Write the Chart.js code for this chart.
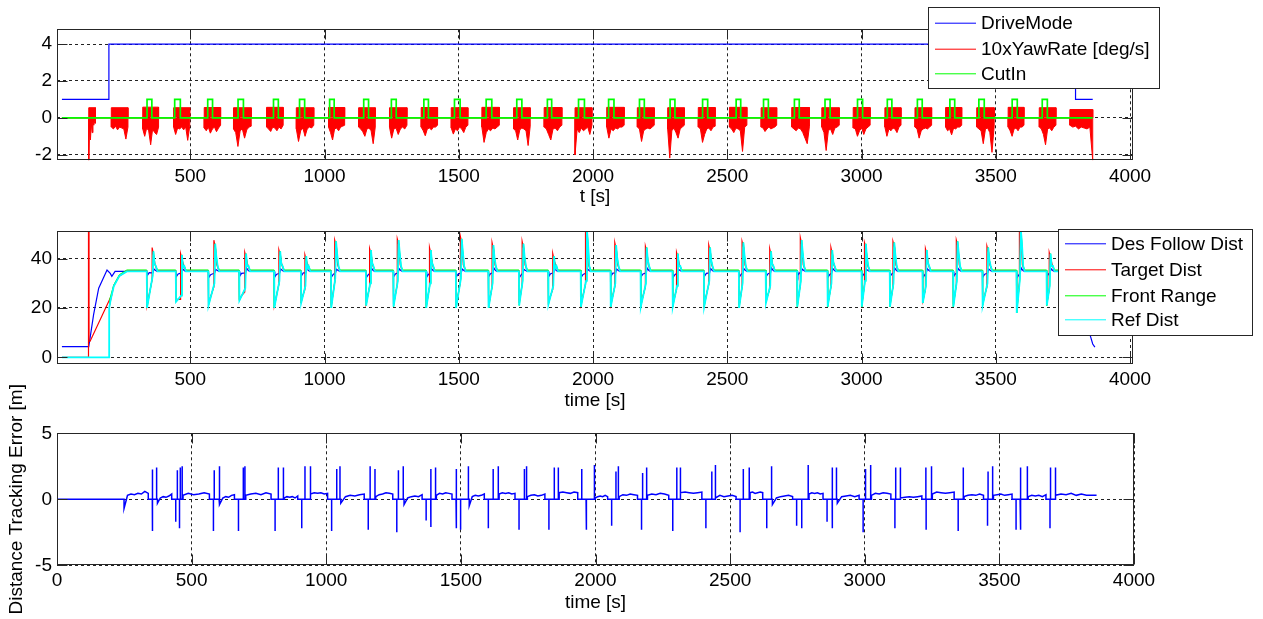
<!DOCTYPE html>
<html><head><meta charset="utf-8">
<script src="https://cdn.jsdelivr.net/npm/chart.js@4.4.1/dist/chart.umd.min.js"></script>
<style>html,body{margin:0;padding:0;background:#fff;overflow:hidden}canvas{position:absolute;left:0;top:0}</style>
</head><body>
<canvas id="c1" width="1263" height="619"></canvas>
<canvas id="c2" width="1263" height="619"></canvas>
<canvas id="c3" width="1263" height="619"></canvas>
<script>
// ================= DATA =================
// ---- tick labels
const xTicksTime = [500, 1000, 1500, 2000, 2500, 3000, 3500, 4000];
const xTicksError = [0, 500, 1000, 1500, 2000, 2500, 3000, 3500, 4000];
const yTicksTop = [-2, 0, 2, 4];
const yTicksMid = [0, 20, 40];
const yTicksErr = [-5, 0, 5];

// ---- panel 1 : DriveMode / 10xYawRate / CutIn
const driveModeTime = [22, 197, 197, 3797, 3797, 3861];
const driveModeValue = [1, 1, 4, 4, 1, 1];
const signalSpan = [22, 3861];
const yawBurstStart = [122,206,323,438,552,661,784,895,1015,1127,1242,1360,1472,1586,1704,1818,1933,2051,2165,2278,2392,2508,2626,2740,2852,2969,3087,3199,3313,3429,3546,3662,3776];
const yawBurstEnd   = [147,268,382,498,613,727,846,960,1075,1189,1307,1421,1534,1651,1766,1884,1996,2116,2228,2340,2455,2573,2684,2806,2917,3032,3147,3261,3373,3494,3605,3724,3861];
const yawBurstTop   = [0.55,0.55,0.58,0.55,0.56,0.55,0.57,0.55,0.56,0.55,0.55,0.56,0.55,0.57,0.55,0.56,0.55,0.57,0.55,0.55,0.56,0.57,0.55,0.56,0.55,0.56,0.55,0.55,0.56,0.55,0.57,0.55,0.45];
const yawBurstLow = [
  [-2.3,-0.2,-1.2,-0.3,-0.8,-0.2,-0.4,-0.2,-0.3],
  [-0.5,-0.6,-0.45,-0.65,-0.5,-0.55,-0.6,-1.15,-0.5],
  [-0.6,-1.0,-0.55,-0.7,-1.46,-0.6,-0.8,-0.9,-0.5],
  [-0.5,-0.9,-0.55,-0.6,-0.5,-0.65,-0.5,-1.22,-0.45],
  [-0.55,-0.7,-0.5,-0.83,-0.6,-0.5,-0.75,-0.55,-0.4],
  [-0.6,-0.8,-1.55,-0.7,-0.6,-1.1,-0.65,-0.5,-0.45],
  [-0.5,-0.6,-0.74,-0.5,-0.55,-0.7,-0.5,-0.6,-0.4],
  [-0.6,-1.28,-0.7,-0.55,-1.0,-0.6,-0.5,-0.55,-0.4],
  [-0.5,-0.8,-1.2,-0.6,-0.55,-0.7,-0.5,-0.45,-0.4],
  [-0.5,-0.6,-0.75,-1.0,-0.6,-0.55,-0.7,-1.4,-0.5],
  [-0.5,-1.1,-0.6,-0.55,-0.9,-0.6,-0.5,-0.6,-0.4],
  [-0.5,-0.7,-0.97,-0.6,-0.55,-0.65,-0.5,-0.5,-0.4],
  [-0.55,-0.88,-0.6,-0.7,-0.5,-0.6,-0.8,-0.5,-0.4],
  [-0.5,-1.33,-0.8,-0.6,-0.7,-0.55,-0.6,-0.5,-0.4],
  [-0.6,-0.7,-1.2,-0.65,-0.55,-0.6,-0.7,-1.5,-0.45],
  [-0.5,-0.6,-0.9,-1.2,-0.6,-0.55,-0.7,-0.5,-0.4],
  [-2.0,-0.6,-0.8,-0.55,-0.7,-0.6,-0.5,-0.9,-0.4],
  [-0.5,-1.1,-0.6,-0.7,-0.55,-0.6,-0.5,-0.5,-0.4],
  [-0.5,-0.6,-1.28,-0.7,-0.6,-0.55,-0.6,-0.5,-0.4],
  [-0.6,-2.18,-0.7,-0.55,-0.8,-1.1,-0.6,-0.5,-0.4],
  [-0.5,-0.6,-1.33,-0.9,-0.6,-0.55,-0.7,-0.5,-0.45],
  [-0.5,-0.6,-0.8,-0.55,-0.6,-0.7,-1.82,-0.5,-0.4],
  [-0.5,-0.55,-0.74,-0.6,-0.5,-0.6,-0.55,-0.5,-0.4],
  [-0.5,-0.6,-0.7,-0.55,-0.6,-0.8,-1.1,-1.4,-0.45],
  [-0.5,-0.8,-1.77,-0.7,-0.6,-0.9,-0.55,-0.5,-0.4],
  [-0.55,-0.6,-1.0,-0.7,-0.55,-0.9,-0.6,-0.5,-0.4],
  [-0.5,-1.0,-0.6,-0.7,-0.55,-0.6,-0.8,-0.5,-0.4],
  [-0.5,-0.6,-1.1,-0.7,-0.6,-0.55,-0.6,-0.5,-0.4],
  [-0.5,-0.7,-0.6,-0.92,-0.55,-0.6,-0.5,-0.5,-0.4],
  [-0.5,-0.6,-0.7,-1.4,-0.6,-0.55,-0.8,-1.87,-0.45],
  [-0.5,-0.7,-1.0,-0.6,-0.55,-0.7,-0.5,-0.5,-0.4],
  [-0.5,-0.6,-0.9,-1.46,-0.6,-0.55,-0.7,-0.5,-0.4],
  [-0.4,-0.5,-0.45,-0.6,-0.5,-0.55,-0.6,-0.5,-2.3]
];
const cutInStart = [339,442,565,678,810,907,1019,1146,1249,1370,1484,1602,1716,1830,1946,2058,2173,2287,2408,2533,2635,2750,2864,2985,3096,3208,3329,3437,3561,3673];
const cutInEnd   = [357,463,583,698,828,926,1036,1164,1267,1387,1505,1623,1735,1846,1968,2078,2191,2305,2427,2550,2653,2768,2883,3004,3113,3226,3347,3457,3580,3692];

// ---- panel 2 : distances
const eventDrop = [339,447,568,683,813,913,1025,1155,1257,1379,1490,1611,1725,1834,1955,2066,2178,2297,2414,2544,2644,2761,2874,3001,3106,3228,3342,3451,3578,3690];
const eventPeak = [363,469,593,708,835,932,1043,1173,1276,1396,1511,1629,1741,1855,1977,2086,2200,2316,2436,2560,2663,2777,2891,3016,3122,3243,3358,3472,3593,3704];
const refDropValue = [20,22.5,21,23,20,22,20,21,20.5,20,20,20,21,21.5,20.5,20.5,20.5,20.5,20.5,20,22,20.5,20.5,20.5,20.5,22,20.5,21,18,21];
const refRampEnd   = [33,25,30,28,31,29,32,30,31,30,32,30,31,29,31,30,30,29,31,30,29,31,30,31,30,29,31,30,32,29];
const refPeakValue = [43,41.5,46,42,43,41,47,43.5,47.5,43.5,48,45.5,46,41,52,45.5,44.5,42,44.5,46.5,43,47.5,43.5,46,46.5,43.5,47,44.5,52,42];
const targetPeakValue = [44.5,42,47.5,42.5,43.5,41.5,47.5,44,48,44.5,49,46.5,47,42,53,46.5,45,42.5,45.5,47,44,48.5,44.5,46.5,47,44,47.5,45,53,42.5];
const desDipValue  = [33.3,32.8,32.5,33,32.6,33.2,32.7,32.5,32.9,32.6,32.8,33,32.5,32.9,32.6,33.1,32.8,32.5,33,32.7,32.9,33.2,32.6,32.8,33,32.5,32.9,32.7,32.4,33];
const desRiseValue = [35.8,36,35.6,36.2,35.8,36,35.7,36.1,35.9,36,35.8,36.2,35.6,36,35.9,35.8,36.1,35.7,36,35.9,36.2,35.8,36,35.7,36.1,35.9,36,35.8,36.2,35.9];
const followLevel = 34.8, targetLevel = 35, frontLevel = 35.4;
const desStartTime  = [22, 122, 140, 159, 190, 202, 208, 220, 264];
const desStartValue = [4.3, 4.3, 17.3, 28, 35.4, 34, 32.8, 34.8, 34.8];
const desEndTime  = [3780, 3820, 3840, 3851, 3861, 3869];
const desEndValue = [34.8, 25, 15, 9.1, 5.4, 4.1];
const targetStartTime  = [22, 121, 121, 123, 123, 127, 200, 201, 215, 236, 264];
const targetStartValue = [0, 0, 60, 60, 6.5, 6.5, 23.5, 22, 29, 33, 35];
const refStartTime  = [22, 198, 198, 203, 215, 236, 264];
const refStartValue = [0, 0, 20, 23, 28.8, 33, 34.8];
const frontStartTime  = [198, 200, 215, 236, 264];
const frontStartValue = [21, 23.5, 29.3, 33.5, 35.4];
const distEndTime = 3790;

// ---- panel 3 : distance tracking error
const errActiveSpan = [249, 3861];
const errSpikeTime = [
  [354,355,370],[441,447,455,458,465],[581,584,602],[674,692,698],[810,822,841],
  [909,921,940],[1020,1039,1051],[1156,1163,1181],[1262,1268,1286],[1371,1388,1389,1406],
  [1482,1484,1499,1528],[1602,1620,1639],[1716,1736,1744],[1827,1847,1862],[1949,1965,1967,1996],
  [2060,2076,2085],[2171,2175,2190],[2287,2302,2314],[2410,2432,2444],[2537,2549,2571],
  [2636,2654],[2747,2766,2790],[2860,2879,2880,2895],[2994,3003,3022],[3112,3115,3131],
  [3227,3228,3248],[3347,3366],[3456,3458,3475],[3562,3577,3580,3604],[3688,3690,3707]
];
const errSpikeValue = [
  [-2.4,2.26,2.4],[-1.7,2.2,-2.2,2.4,2.5],[-2.4,2.2,2.5],[-2.4,2.4,2.5],[-2.4,2.4,2.4],
  [-2.2,2.5,2.5],[-2.4,2.3,2.5],[-2.3,2.5,2.3],[-2.5,2.2,2.5],[-1.6,2.3,-2.1,2.4],
  [-2.2,2.3,-2.3,2.5],[-2.2,2.3,2.5],[-2.3,2.3,2.5],[-2.3,2.4,2.4],[2.3,-2.3,-1.9,2.6],
  [-2.0,2.1,2.5],[-2.3,2.0,2.4],[-2.4,2.4,2.4],[-2.2,2.1,2.6],[-2.5,2.3,2.4],
  [-2.2,2.5],[-2.0,-2.2,2.6],[-1.7,-2.2,2.4,2.4],[-2.5,2.3,2.6],[-2.2,2.4,2.4],
  [2.4,-2.3,2.5],[-2.4,2.4],[-2.0,2.1,2.5],[-2.3,2.4,-2.3,2.5],[-2.2,2.4,2.4]
];
const errNoise = [
  [-0.7,0.3,0.4,0.35,0.45,0.4,0.6,0.45],
  [-0.3,0.1,0.2,0.15,0.25,0.4],[0.3,0.45,0.35,0.4,0.5,0.4],[-0.4,0.1,0.2,0.15,0.3,0.35],
  [0.3,0.4,0.45,0.35,0.5,0.4],[0.1,0.2,0.15,0.2,0.1,0.25],[0.4,0.5,0.45,0.5,0.4,0.45],
  [-0.3,0.2,0.3,0.25,0.35,0.4],[0.2,0.35,0.4,0.5,0.45,0.4],[-0.4,0.1,0.2,0.25,0.2,0.35],
  [0.3,0.45,0.4,0.5,0.45,0.4],[-0.5,0.2,0.3,0.25,0.3,0.4],[0.4,0.5,0.45,0.5,0.4,0.45],
  [0.2,0.3,0.35,0.25,0.3,0.4],[0.5,0.55,0.5,0.45,0.55,0.5],[0.1,0.2,0.25,0.2,0.3,0.2],
  [0.2,0.35,0.3,0.4,0.35,0.3],[0.3,0.4,0.35,0.45,0.4,0.3],[0.5,0.55,0.5,0.45,0.5,0.55],
  [0.1,0.3,0.2,0.25,0.3,0.2],[0.5,0.55,0.45,0.5,0.55,0.5],[-0.4,0.1,0.2,0.25,0.3,0.2],
  [0.4,0.5,0.45,0.5,0.4,0.45],[-0.3,0.2,0.25,0.3,0.2,0.3],[0.3,0.45,0.4,0.5,0.45,0.4],
  [0.1,0.15,0.2,0.15,0.2,0.25],[0.4,0.55,0.5,0.45,0.5,0.55],[0.2,0.3,0.35,0.3,0.4,0.3],
  [0.3,0.35,0.4,0.3,0.35,0.4],[0.2,0.3,0.25,0.3,0.2,0.35],
  [0.3,0.4,0.35,0.45,0.3,0.4,0.3,0.3,0.3]
];
const errQuietBefore = 15, errSettleAfter = 3;

// ================= BUILD SERIES =================
const P = (x, y) => ({x, y});
const pts = (ts, vs) => ts.map((t, i) => P(t, vs[i]));

const driveMode = pts(driveModeTime, driveModeValue);
const yawUpper = [P(signalSpan[0], 0)], yawLower = [P(signalSpan[0], 0)];
yawBurstStart.forEach((s, i) => {
  const e = yawBurstEnd[i], low = yawBurstLow[i], n = low.length;
  yawUpper.push(P(s, 0), P(s, yawBurstTop[i]), P(e, yawBurstTop[i]), P(e, 0));
  yawLower.push(P(s, 0));
  low.forEach((v, j) => yawLower.push(P(s + (e - s) * j / (n - 1), v)));
  yawLower.push(P(e, 0));
});
yawUpper.push(P(signalSpan[1], 0)); yawLower.push(P(signalSpan[1], 0));
const cutIn = [P(signalSpan[0], 0)];
cutInStart.forEach((s, i) => cutIn.push(P(s, 0), P(s, 1), P(cutInEnd[i], 1), P(cutInEnd[i], 0)));
cutIn.push(P(signalSpan[1], 0));

const des = pts(desStartTime, desStartValue);
const target = pts(targetStartTime, targetStartValue);
const ref = pts(refStartTime, refStartValue);
const front = pts(frontStartTime, frontStartValue);
eventDrop.forEach((d, i) => {
  const p = eventPeak[i];
  des.push(P(d - 1, followLevel), P(d + 2, desDipValue[i]), P(d + 8, desDipValue[i] + 1), P(p - 2, 34.2), P(p + 2, desRiseValue[i]), P(p + 8, 35.2), P(p + 14, followLevel));
  target.push(P(d - 1, targetLevel), P(d, refDropValue[i] + 1), P(p - 5, refRampEnd[i] - 1.5), P(p - 5, targetPeakValue[i]), P(p + 1, refPeakValue[i] - 2), P(p + 6, 37.5), P(p + 14, targetLevel));
  front.push(P(d - 1, frontLevel), P(d, refDropValue[i]), P(p - 3, refRampEnd[i]), P(p, refPeakValue[i]), P(p + 4, refPeakValue[i] - 5), P(p + 9, 37), P(p + 15, frontLevel));
  ref.push(P(d - 1, followLevel), P(d, refDropValue[i]), P(p - 3, refRampEnd[i]), P(p, refPeakValue[i]), P(p + 4, refPeakValue[i] - 5), P(p + 9, 37), P(p + 15, followLevel));
});
des.push(...pts(desEndTime, desEndValue));
target.push(P(distEndTime, targetLevel));
ref.push(P(distEndTime, followLevel));
front.push(P(distEndTime, frontLevel));

const trackErr = [P(0, 0)];
function addNoise(a, b, vals, closeToZero) {
  trackErr.push(P(a, 0));
  vals.forEach((v, j) => trackErr.push(P(a + (b - a) * j / (vals.length - 1), v)));
  if (closeToZero) trackErr.push(P(b, 0));
}
addNoise(errActiveSpan[0], errSpikeTime[0][0] - errQuietBefore, errNoise[0], true);
errSpikeTime.forEach((ts, k) => {
  ts.forEach((t, j) => trackErr.push(P(t, 0), P(t, errSpikeValue[k][j]), P(t, 0)));
  const a = ts[ts.length - 1] + errSettleAfter;
  const last = k + 1 >= errSpikeTime.length;
  const b = last ? errActiveSpan[1] : errSpikeTime[k + 1][0] - errQuietBefore;
  addNoise(a, b, errNoise[k + 1], !last);
});

// ================= CHARTS =================
const FONT = "'Liberation Sans', Arial, Helvetica, sans-serif";
Chart.defaults.font.family = FONT;
Chart.defaults.font.size = 19;
Chart.defaults.color = '#000';
const AXIS = '#262626';

function framePlugin() {
  return {
    id: 'frame',
    afterDatasetsDraw(chart) {
      const {ctx, chartArea: a} = chart;
      const L = Math.round(a.left) + 0.5, R = Math.round(a.right) - 0.5, T = Math.round(a.top) + 0.5, B = Math.round(a.bottom) - 0.5;
      ctx.save();
      ctx.setLineDash([]); ctx.strokeStyle = AXIS; ctx.lineWidth = 1;
      ctx.strokeRect(L, T, R - L, B - T);
      const len = 10;
      ctx.beginPath();
      chart.scales.x.ticks.forEach(t => { const p = Math.round(chart.scales.x.getPixelForValue(t.value)) + 0.5; ctx.moveTo(p, B); ctx.lineTo(p, B - len); ctx.moveTo(p, T); ctx.lineTo(p, T + len); });
      chart.scales.y.ticks.forEach(t => { const p = Math.round(chart.scales.y.getPixelForValue(t.value)) + 0.5; ctx.moveTo(L, p); ctx.lineTo(L + len, p); ctx.moveTo(R, p); ctx.lineTo(R - len, p); });
      ctx.stroke();
      ctx.restore();
    }
  };
}
function legendPlugin(cfg) {
  return {
    id: 'boxLegend',
    afterDraw(chart) {
      const {ctx} = chart, b = cfg.box;
      ctx.save();
      ctx.fillStyle = '#fff'; ctx.fillRect(b.x, b.y, b.w, b.h);
      ctx.strokeStyle = AXIS; ctx.lineWidth = 1; ctx.strokeRect(b.x + 0.5, b.y + 0.5, b.w, b.h);
      const items = chart.data.datasets.filter(d => d.legendRow !== undefined).sort((p, q) => p.legendRow - q.legendRow);
      ctx.font = '19px ' + FONT; ctx.textBaseline = 'middle'; ctx.textAlign = 'left';
      items.forEach((d, i) => {
        const y = cfg.rows[i];
        ctx.strokeStyle = d.borderColor; ctx.lineWidth = 1;
        ctx.beginPath(); ctx.moveTo(cfg.lineX[0], y + 0.5); ctx.lineTo(cfg.lineX[1], y + 0.5); ctx.stroke();
        ctx.fillStyle = '#000'; ctx.fillText(d.label, cfg.textX, y + 1);
      });
      ctx.restore();
    }
  };
}
function scaleX(min, max, ticks, title, height, tickPad, titlePad) {
  return {
    type: 'linear', min, max,
    afterBuildTicks: s => { s.ticks = ticks.map(v => ({value: v})); },
    afterFit: s => { s.height = height; },
    ticks: {padding: tickPad, maxRotation: 0, autoSkip: false, callback: v => String(v), color: '#000'},
    grid: {color: '#222', lineWidth: 1, drawTicks: false},
    border: {display: false, dash: [3, 3]},
    title: {display: true, text: title, color: '#000', padding: {top: 0, bottom: titlePad}}
  };
}
function scaleY(min, max, ticks, title) {
  return {
    type: 'linear', min, max,
    afterBuildTicks: s => { s.ticks = ticks.map(v => ({value: v})); },
    afterFit: s => { s.width = 57; },
    ticks: {padding: 5, callback: v => String(v), color: '#000'},
    grid: {color: '#222', lineWidth: 1, drawTicks: false},
    border: {display: false, dash: [3, 3]},
    title: title ? {display: true, text: title, color: '#000', padding: {top: 5, bottom: 0}} : {display: false}
  };
}
const line = (label, data, color, order, extra) => Object.assign({label, data, borderColor: color, backgroundColor: color, borderWidth: 1, pointRadius: 0, tension: 0, fill: false, order}, extra || {});
const common = (padding, scales) => ({
  responsive: false, animation: false, events: [],
  layout: {padding},
  plugins: {legend: {display: false}, tooltip: {enabled: false}},
  scales
});

new Chart(document.getElementById('c1'), {
  type: 'line',
  data: {datasets: [
    line('DriveMode', driveMode, '#0000ff', 3, {legendRow: 0, borderWidth: 1.2}),
    line('10xYawRate [deg/s]', yawUpper, '#ff0000', 2, {legendRow: 1, fill: {value: 0}}),
    line('', yawLower, '#ff0000', 2, {fill: {value: 0}}),
    line('CutIn', cutIn, '#00ff00', 1, {legendRow: 2, borderWidth: 1.7})
  ]},
  options: common({top: 29.3, right: 130, bottom: 408.7, left: 0}, {
    x: scaleX(3.7, 4011, xTicksTime, 't [s]', 50, 5, 2),
    y: scaleY(-2.3, 4.8, yTicksTop)
  }),
  plugins: [framePlugin(), legendPlugin({box: {x: 928, y: 7, w: 231, h: 81}, rows: [22.7, 48.7, 73.3], lineX: [935, 976], textX: 981})]
});

new Chart(document.getElementById('c2'), {
  type: 'line',
  data: {datasets: [
    line('Des Follow Dist', des, '#0000ff', 4, {legendRow: 0, borderWidth: 1.2}),
    line('Target Dist', target, '#ff0000', 3, {legendRow: 1, borderWidth: 1.2}),
    line('Front Range', front, '#00ff00', 2, {legendRow: 2, borderWidth: 1}),
    line('Ref Dist', ref, '#00ffff', 1, {legendRow: 3, borderWidth: 1.8})
  ]},
  options: common({top: 231, right: 130, bottom: 204.6, left: 0}, {
    x: scaleX(3.7, 4011, xTicksTime, 'time [s]', 50.7, 5, 2),
    y: scaleY(-2.6, 51.2, yTicksMid)
  }),
  plugins: [framePlugin(), legendPlugin({box: {x: 1058, y: 229, w: 194, h: 106}, rows: [243.3, 269.3, 295.3, 319.3], lineX: [1065, 1106], textX: 1111})]
});

new Chart(document.getElementById('c3'), {
  type: 'line',
  data: {datasets: [
    line('Distance Tracking Error', trackErr, '#0000ff', 1, {borderWidth: 1.5})
  ]},
  options: common({top: 433.3, right: 129, bottom: 3.1, left: 0}, {
    x: scaleX(0, 4000, xTicksError, 'time [s]', 50.6, 4, 2),
    y: scaleY(-5, 5, yTicksErr, 'Distance Tracking Error [m]')
  }),
  plugins: [framePlugin()]
});
</script>
</body></html>
